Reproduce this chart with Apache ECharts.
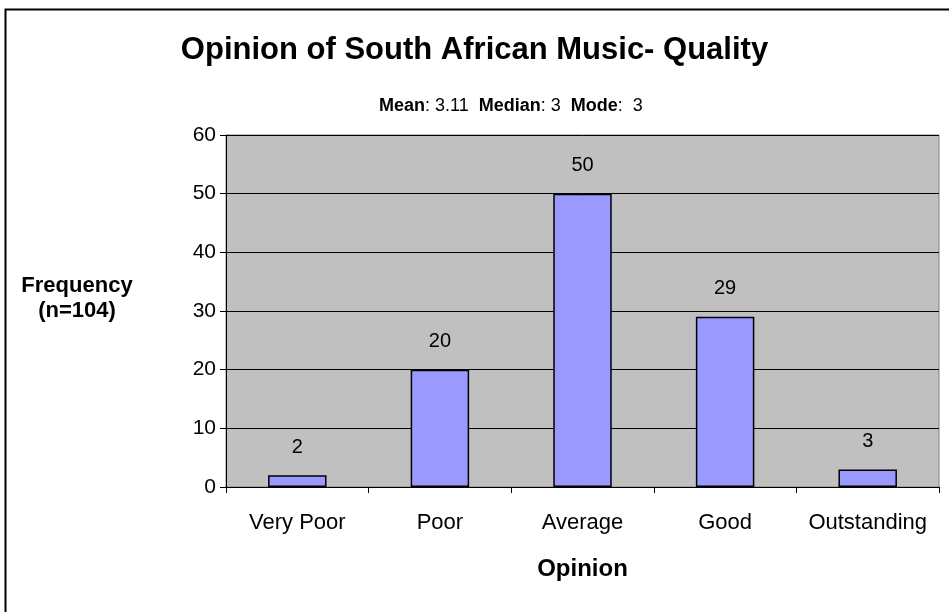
<!DOCTYPE html>
<html>
<head>
<meta charset="utf-8">
<script src="https://cdn.jsdelivr.net/npm/echarts@6/dist/echarts.min.js"></script>
<style>
  html, body { margin: 0; padding: 0; background: #fff; }
  #chart { width: 949px; height: 612px; }
</style>
</head>
<body>
<div id="chart"></div>
<script>
// data
const categories = ["Very Poor", "Poor", "Average", "Good", "Outstanding"];
const frequency = [2, 20, 50, 29, 3];
const stats = { mean: "3.11", median: "3", mode: "3" };

const FONT = "Liberation Sans, Arial, sans-serif";

const chart = echarts.init(document.getElementById("chart"));
const option = {
  backgroundColor: "#fff",
  animation: false,
  textStyle: { fontFamily: FONT },
  graphic: [
    {
      type: "rect",
      shape: { x: 5.5, y: 9.5, width: 960, height: 620 },
      style: { fill: "none", stroke: "#000", lineWidth: 2 },
      z: 0
    }
  ],
  title: [
    {
      text: "Opinion of South African Music- Quality",
      left: "center",
      top: 30,
      textStyle: { fontFamily: FONT, fontSize: 31, fontWeight: "bold", color: "#000" }
    },
    {
      text:
        "{b|Mean}{n|: " + stats.mean + "  }{b|Median}{n|: " + stats.median +
        "  }{b|Mode}{n|:  " + stats.mode + "}",
      left: 374,
      top: 92,
      textStyle: {
        rich: {
          b: { fontFamily: FONT, fontSize: 18, fontWeight: "bold", color: "#000" },
          n: { fontFamily: FONT, fontSize: 18, fontWeight: "normal", color: "#000" }
        }
      }
    }
  ],
  grid: {
    left: 226,
    right: 10,
    top: 135,
    bottom: 125,
    show: true,
    backgroundColor: "#c0c0c0",
    borderColor: "#808080",
    borderWidth: 1
  },
  xAxis: {
    type: "category",
    data: categories,
    name: "Opinion",
    nameLocation: "middle",
    nameGap: 70,
    nameTextStyle: { fontFamily: FONT, fontSize: 24, fontWeight: "bold", color: "#000" },
    axisLine: { lineStyle: { color: "#000", width: 1 } },
    axisTick: { show: true, interval: 0, length: 6, lineStyle: { color: "#000" } },
    axisLabel: { interval: 0, fontFamily: FONT, fontSize: 22, color: "#000", margin: 25 }
  },
  yAxis: {
    type: "value",
    min: 0,
    max: 60,
    interval: 10,
    // trailing blank line lifts the two-line name a little, as in the picture
    name: "Frequency\n(n=104)\n ",
    nameLocation: "middle",
    nameRotate: 0,
    nameGap: 149,
    nameTextStyle: {
      fontFamily: FONT, fontSize: 22, fontWeight: "bold", color: "#000",
      lineHeight: 25, align: "center"
    },
    axisLine: { show: true, lineStyle: { color: "#000", width: 1 } },
    axisTick: { show: true, length: 6, lineStyle: { color: "#000" } },
    axisLabel: { fontFamily: FONT, fontSize: 21, color: "#000", margin: 10 },
    splitLine: { show: true, lineStyle: { color: "#000", width: 1 } }
  },
  series: [
    {
      type: "bar",
      data: frequency,
      barWidth: "41%",
      itemStyle: { color: "#9999ff", borderColor: "#000", borderWidth: 1.5 },
      label: {
        show: true,
        position: "top",
        distance: 18,
        fontFamily: FONT,
        fontSize: 20,
        color: "#000"
      }
    }
  ]
};
chart.setOption(option);
</script>
</body>
</html>
